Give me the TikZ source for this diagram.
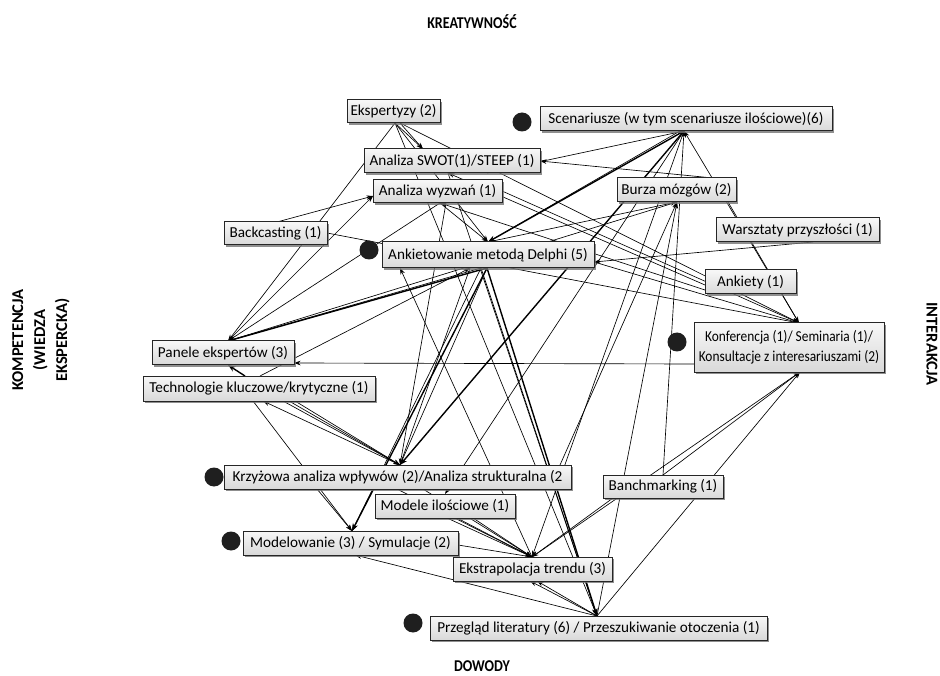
\documentclass[tikz,border=0pt]{standalone}
\usepackage{fontspec}
\usepackage{graphicx}
\setmainfont{Carlito}
\usetikzlibrary{arrows.meta,shadows}
\begin{document}
\begin{tikzpicture}[x=1pt,y=-1pt,
  box/.style={draw=black!85,line width=1pt,top color=gray!6,bottom color=gray!30,
    drop shadow={shadow xshift=1.8pt,shadow yshift=-1.8pt,fill=black!55,opacity=0.8},
    inner sep=0pt,align=center,font=\fontsize{15.2}{20}\selectfont},
  dotn/.style={circle,fill=black!88,draw=none,minimum size=19pt,inner sep=0pt},
  axis/.style={font=\bfseries\fontsize{16.5}{22}\selectfont,align=center},
  con/.style={line width=0.65pt,-{Stealth[length=6.5pt,width=4.5pt]}},
  thk/.style={line width=1.4pt,-{Stealth[length=7.5pt,width=5.5pt]}}]
\useasboundingbox (0,0) rectangle (940,676);
% hubs
\coordinate (EKb) at (395,123);
\coordinate (EKb2) at (400,123);
\coordinate (SCb) at (684,131);
\coordinate (SWt) at (423,149);
\coordinate (SWr) at (540,161);
\coordinate (SWb) at (448,173);
\coordinate (SWb2) at (487,173);
\coordinate (AWl) at (373,196);
\coordinate (AWb) at (440,203);
\coordinate (AWb2) at (446,203);
\coordinate (AWr) at (502,191);
\coordinate (BUb) at (677,202);
\coordinate (BUtr) at (713,178);
\coordinate (BUbr) at (728,202);
\coordinate (DEt) at (488,242);
\coordinate (DEb) at (487,268);
\coordinate (DEb2) at (481,268);
\coordinate (DEb3) at (470,268);
\coordinate (DEbl) at (400,268);
\coordinate (DEr) at (594,262);
\coordinate (WAb) at (813,242);
\coordinate (ANl) at (705,285);
\coordinate (ANl2) at (705,290);
\coordinate (KOt) at (799,323);
\coordinate (KOb) at (800,372);
\coordinate (KOl) at (694,364);
\coordinate (PAt) at (228,341);
\coordinate (PAb) at (228,365);
\coordinate (PAr) at (294,363);
\coordinate (TEt) at (260,376);
\coordinate (TEt2) at (245,376);
\coordinate (TEb) at (283,401);
\coordinate (TEb2) at (263,401);
\coordinate (TEb3) at (253,401);
\coordinate (KRt) at (400,465);
\coordinate (KRtr) at (560,465);
\coordinate (KRbl) at (317,489);
\coordinate (KRb) at (397,489);
\coordinate (KRb2) at (423,489);
\coordinate (BNt) at (663,475);
\coordinate (BNl) at (613,498);
\coordinate (MIt) at (445,494);
\coordinate (MIb) at (447,518);
\coordinate (MIb2) at (457,518);
\coordinate (MIb3) at (473,518);
\coordinate (MOt) at (352,531);
\coordinate (MOb) at (355,555);
\coordinate (MOr) at (458,545);
\coordinate (EXt) at (532,557);
\coordinate (EXb) at (537,581);
\coordinate (EXb2) at (530,581);
\coordinate (PRt) at (597,616);
\coordinate (BAt) at (277,222);
\coordinate (BAr) at (327,233);
% connectors
\draw[con] (EKb) -- (PAt);
\draw[con] (EKb) -- (SWt);
\draw[con] (EKb2) -- (SWt);
\draw[con] (EKb) -- (DEt);
\draw[con] (EKb2) -- (KOt);
\draw[con] (EKb) -- (PRt);
\draw[con] (SWb) -- (PRt);
\draw[con] (BAt) -- (AWl);
\draw[con] (BAr) -- (KOt);
\draw[con] (PAt) -- (AWl);
\draw[con] (AWb) -- (PAt);
\draw[thk] (DEb) -- (PAt);
\draw[con] (DEb2) -- (PAt);
\draw[con] (BUb) -- (PAt);
\draw[thk] (TEt2) -- (PAb);
\draw[con] (TEt) -- (DEb3);
\draw[con] (KOl) -- (PAr);
\draw[con] (TEb) -- (KRt);
\draw[con] ([xshift=6pt]TEb) -- (KRt);
\draw[con] ([xshift=12pt]TEb) -- (KRt);
\draw[con] (KRt) -- (TEb2);
\draw[con] (TEb3) -- (MOt);
\draw[con] (KRbl) -- (MOt);
\draw[thk] (DEb) -- (MOt);
\draw[con] (DEb2) -- (MOt);
\draw[con] (DEb) -- (KRt);
\draw[con] (DEb3) -- (KRt);
\draw[thk] (SCb) -- (KRt);
\draw[thk] (SCb) -- (DEt);
\draw[con] ([xshift=-4pt]SCb) -- (DEt);
\draw[con] (AWb2) -- (KRt);
\draw[con] (SWb2) -- (SCb);
\draw[con] (BUtr) -- (SWr);
\draw[con] (ANl) -- (SWb);
\draw[con] (ANl2) -- (AWb);
\draw[con] (AWr) -- (KOt);
\draw[con] (DEr) -- (KOt);
\draw[con] (BUbr) -- (KOt);
\draw[con] (KOt) -- (SCb);
\draw[con] (WAb) -- (DEr);
\draw[con] (SCb) -- (MIt);
\draw[con] (SCb) -- (EXt);
\draw[con] (BNt) -- (SCb);
\draw[con] (DEt) -- (BUb);
\draw[con] (KRtr) -- (BUb);
\draw[con] (PRt) -- (BUb);
\draw[con] (PRt) -- (MOb);
\draw[con] (PRt) -- (EXb);
\draw[con] (PRt) -- (EXb2);
\draw[thk] (DEb) -- (PRt);
\draw[con] (DEb2) -- (PRt);
\draw[con] (PRt) -- (KOb);
\draw[con] (EXt) -- (KOb);
\draw[con] (BNt) -- (KOb);
\draw[con] (BNl) -- (EXt);
\draw[con] (MOr) -- (EXt);
\draw[con] (MIb) -- (EXt);
\draw[con] (MIb2) -- (EXt);
\draw[con] (MIb3) -- (EXt);
\draw[con] (KRb) -- (EXt);
\draw[con] (KRb2) -- (EXt);
\draw[con] (EXt) -- (DEbl);
\draw[con] (AWb) -- (DEt);
% boxes
\node[box,minimum width=93pt,minimum height=23pt] (ek) at (393.5,111.5) {Ekspertyzy (2)};
\node[box,minimum width=292pt,minimum height=24pt] (sc) at (686,119) {Scenariusze (w tym scenariusze ilościowe)(6)};
\node[box,minimum width=176pt,minimum height=24pt] (sw) at (452,161) {Analiza SWOT(1)/STEEP (1)};
\node[box,minimum width=129pt,minimum height=23pt] (aw) at (437.5,191.5) {Analiza wyzwań (1)};
\node[box,minimum width=119pt,minimum height=24pt] (bu) at (676.5,190) {Burza mózgów (2)};
\node[box,minimum width=163pt,minimum height=24pt] (wa) at (797.5,230) {Warsztaty przyszłości (1)};
\node[box,minimum width=103pt,minimum height=23pt] (ba) at (275.5,233.5) {Backcasting (1)};
\node[box,minimum width=212pt,minimum height=26pt] (de) at (488,255) {Ankietowanie metodą Delphi (5)};
\node[box,minimum width=91pt,minimum height=24pt] (an) at (750.5,282) {Ankiety (1)};
\node[box,minimum width=190pt,minimum height=49pt] (ko) at (789,347.5) {\scalebox{0.88}[1]{Konferencja (1)/ Seminaria (1)/}\\\scalebox{0.88}[1]{Konsultacje z interesariuszami (2)}};
\node[box,minimum width=142pt,minimum height=24pt] (pa) at (223,353) {Panele ekspertów (3)};
\node[box,minimum width=232pt,minimum height=25pt] (te) at (259,388.5) {Technologie kluczowe/krytyczne (1)};
\node[box,minimum width=347pt,minimum height=24pt] (kr) at (397.5,477) {Krzyżowa analiza wpływów (2)/Analiza strukturalna (2};
\node[box,minimum width=120pt,minimum height=23pt] (bn) at (663,486.5) {Banchmarking (1)};
\node[box,minimum width=140pt,minimum height=24pt] (mi) at (445,506) {Modele ilościowe (1)};
\node[box,minimum width=215pt,minimum height=24pt] (mo) at (350.5,543) {Modelowanie (3) / Symulacje (2)};
\node[box,minimum width=159pt,minimum height=24pt] (ex) at (532.5,569) {Ekstrapolacja trendu (3)};
\node[box,minimum width=337pt,minimum height=24pt] (pr) at (598.5,628) {Przegląd literatury (6) / Przeszukiwanie otoczenia (1)};
% dots
\node[dotn] (d1) at (522,122) {};
\node[dotn] (d2) at (369,250) {};
\node[dotn] (d3) at (677,342) {};
\node[dotn] (d4) at (214,477) {};
\node[dotn] (d5) at (231,541) {};
\node[dotn] (d6) at (413,623) {};
% axis labels
\node[axis] (kre) at (472,22) {\scalebox{0.85}[1]{KREATYWNOŚĆ}};
\node[axis] (dow) at (482,666) {\scalebox{0.85}[1]{DOWODY}};
\node[axis,rotate=90] (kom) at (41,340) {KOMPETENCJA\\(WIEDZA\\EKSPERCKA)};
\node[axis,rotate=-90] (int) at (932,344) {INTERAKCJA};
\end{tikzpicture}
\end{document}
